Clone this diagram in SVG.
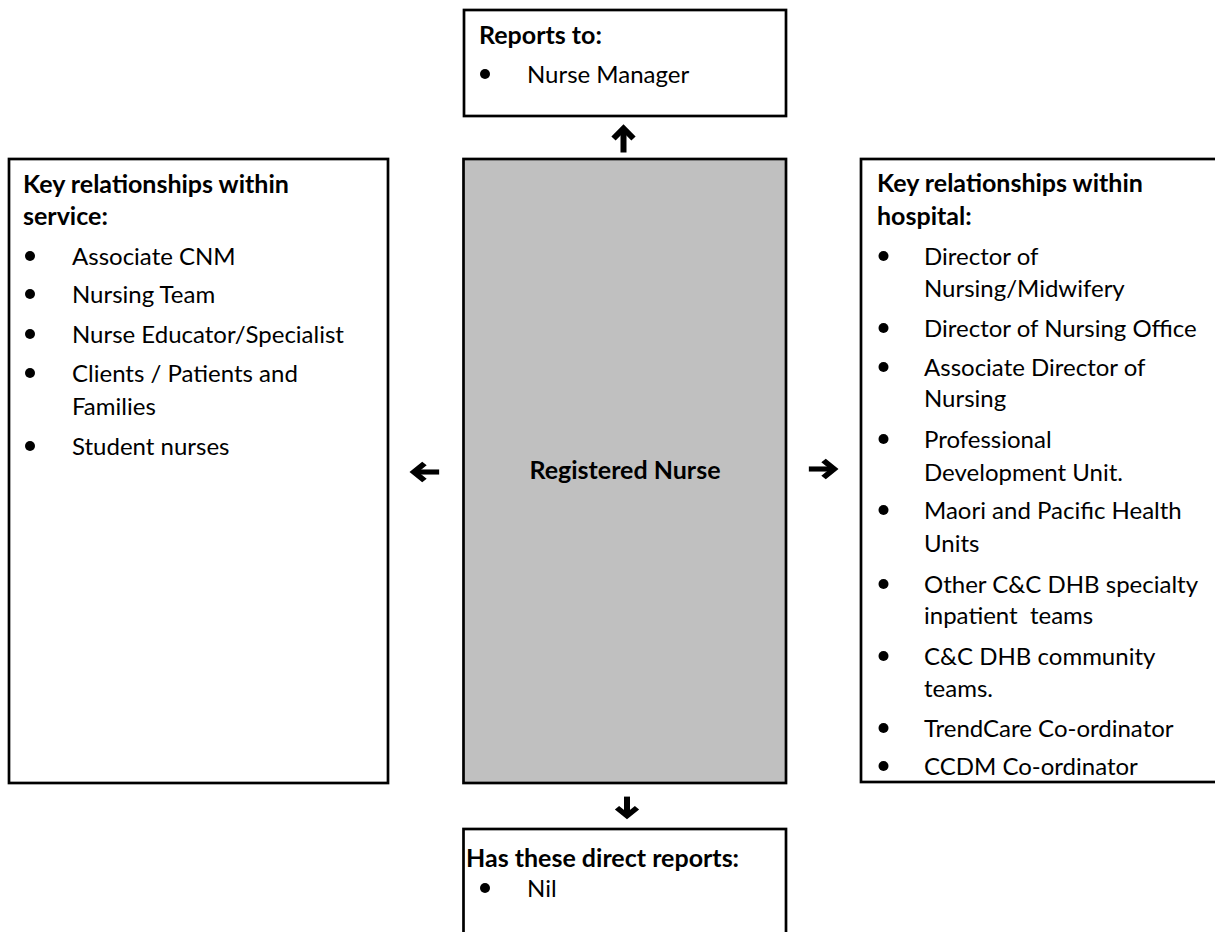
<svg xmlns="http://www.w3.org/2000/svg" width="1215" height="932" viewBox="0 0 1215 932">
<style>
  .box{fill:#ffffff;stroke:#000000;stroke-width:2.7}
  .core{fill:#c0c0c0;stroke:#000000;stroke-width:2.7}
  text{font-family:Lato,"Open Sans","Liberation Sans",sans-serif;font-size:24px;fill:#000000}
  .h{font-weight:bold;font-size:25px}
  .b{fill:#000000}
  .arr{fill:none;stroke:#000000;stroke-width:6;stroke-linejoin:miter;stroke-linecap:butt}
</style>
<defs>
  <g id="arrowUp">
    <path class="arr" d="M-10,-1 L0,-11 L10,-1"/>
    <path class="arr" d="M0,-10 V13"/>
  </g>
</defs>
<rect width="1215" height="932" fill="#ffffff"/>

<g id="connectors">
  <use href="#arrowUp" transform="translate(623.5,139.5)"/>
  <use href="#arrowUp" transform="translate(627,807) rotate(180) scale(1,0.8)"/>
  <use href="#arrowUp" transform="translate(425.5,472) rotate(-90) scale(0.85,1.05)"/>
  <use href="#arrowUp" transform="translate(822.5,469) rotate(90) scale(0.85,1.05)"/>
</g>

<g id="reports-to">
  <rect class="box" x="464" y="10" width="322" height="106"/>
  <text class="h" x="479" y="44">Reports to:</text>
  <circle class="b" cx="485" cy="74" r="5"/>
  <text x="527" y="83">Nurse Manager</text>
</g>

<g id="service">
  <rect class="box" x="9" y="159" width="379" height="624"/>
  <text class="h" x="23" y="193">Key relationships within</text>
  <text class="h" x="23" y="225">service:</text>
  <circle class="b" cx="30" cy="256" r="5"/>
  <text x="72" y="265">Associate CNM</text>
  <circle class="b" cx="30" cy="294" r="5"/>
  <text x="72" y="303">Nursing Team</text>
  <circle class="b" cx="30" cy="334" r="5"/>
  <text x="72" y="343">Nurse Educator/Specialist</text>
  <circle class="b" cx="30" cy="373" r="5"/>
  <text x="72" y="382">Clients / Patients and</text>
  <text x="72" y="415">Families</text>
  <circle class="b" cx="30" cy="446" r="5"/>
  <text x="72" y="455">Student nurses</text>
</g>

<g id="registered-nurse">
  <rect class="core" x="463.5" y="159" width="322.5" height="624"/>
  <text class="h" x="625" y="479" text-anchor="middle">Registered Nurse</text>
</g>

<g id="hospital">
  <rect class="box" x="861" y="159" width="400" height="623"/>
  <text class="h" x="877" y="192">Key relationships within</text>
  <text class="h" x="877" y="225">hospital:</text>
  <circle class="b" cx="883.5" cy="256" r="5"/>
  <text x="924" y="265">Director of</text>
  <text x="924" y="297">Nursing/Midwifery</text>
  <circle class="b" cx="883.5" cy="328" r="5"/>
  <text x="924" y="337">Director of Nursing Office</text>
  <circle class="b" cx="883.5" cy="367" r="5"/>
  <text x="924" y="376">Associate Director of</text>
  <text x="924" y="407">Nursing</text>
  <circle class="b" cx="883.5" cy="439" r="5"/>
  <text x="924" y="448">Professional</text>
  <text x="924" y="481">Development Unit.</text>
  <circle class="b" cx="883.5" cy="510" r="5"/>
  <text x="924" y="519">Maori and Pacific Health</text>
  <text x="924" y="552">Units</text>
  <circle class="b" cx="883.5" cy="584" r="5"/>
  <text x="924" y="593">Other C&amp;C DHB specialty</text>
  <text x="924" y="624" xml:space="preserve">inpatient  teams</text>
  <circle class="b" cx="883.5" cy="656" r="5"/>
  <text x="924" y="665">C&amp;C DHB community</text>
  <text x="924" y="697">teams.</text>
  <circle class="b" cx="883.5" cy="728" r="5"/>
  <text x="924" y="737">TrendCare Co-ordinator</text>
  <circle class="b" cx="883.5" cy="766" r="5"/>
  <text x="924" y="775">CCDM Co-ordinator</text>
</g>

<g id="direct-reports">
  <rect class="box" x="463.5" y="829" width="322.5" height="150"/>
  <text class="h" x="466" y="867">Has these direct reports:</text>
  <circle class="b" cx="485" cy="888" r="5"/>
  <text x="527" y="897">Nil</text>
</g>
</svg>
